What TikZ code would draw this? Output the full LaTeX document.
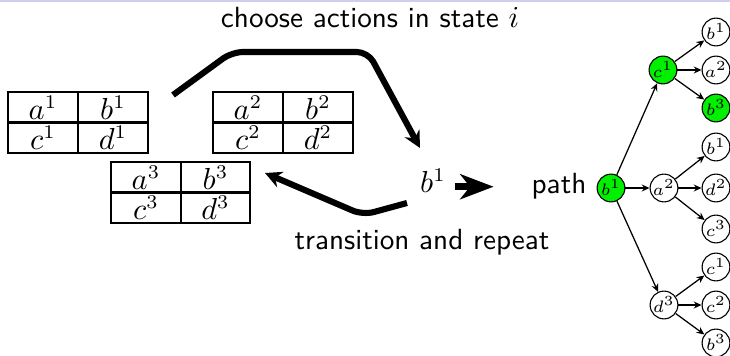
\documentclass[tikz,border=0pt]{standalone}
\usetikzlibrary{arrows.meta}
\definecolor{lav}{RGB}{206,206,240}
\definecolor{nodegreen}{RGB}{0,240,0}
\begin{document}
\begin{tikzpicture}[x=0.36pt,y=-0.36pt,
  tabline/.style={line width=1.05pt},
  cell/.style={font=\fontsize{10.5}{12}\selectfont, inner sep=0pt},
  thickarrow/.style={line width=2.2pt, rounded corners=4pt, -{Stealth[length=6pt,width=6pt,inset=2pt]}},
  bigarrow/.style={line width=2.5pt, -{Stealth[length=12pt,width=9pt,inset=3.5pt]}},
  lbl/.style={font=\sffamily\fontsize{10.5}{12.6}\selectfont, anchor=base, inner sep=0pt},
  st/.style={circle, draw, line width=0.4pt, minimum size=10pt, inner sep=0pt, font=\fontsize{5.6}{6.5}\selectfont},
  hot/.style={st, fill=nodegreen},
  treeedge/.style={line width=0.45pt, -{Stealth[length=2.8pt,width=2.5pt]}}
]
\useasboundingbox (0,0) rectangle (730,356);
\fill[lav] (0,0) rectangle (730,2);

% table 1
\draw[tabline] (8,92) rectangle (148,153);
\draw[tabline] (78,92) -- (78,153);
\draw[tabline] (8,122.5) -- (148,122.5);
\node[cell] (t1a) at (43,107.5) {$a^1$};
\node[cell] (t1b) at (113,107.5) {$b^1$};
\node[cell] (t1c) at (43,138) {$c^1$};
\node[cell] (t1d) at (113,138) {$d^1$};

% table 2
\draw[tabline] (213,92) rectangle (353,153);
\draw[tabline] (283,92) -- (283,153);
\draw[tabline] (213,122.5) -- (353,122.5);
\node[cell] (t2a) at (248,107.5) {$a^2$};
\node[cell] (t2b) at (318,107.5) {$b^2$};
\node[cell] (t2c) at (248,138) {$c^2$};
\node[cell] (t2d) at (318,138) {$d^2$};

% table 3
\draw[tabline] (111,162) rectangle (250,223);
\draw[tabline] (181,162) -- (181,223);
\draw[tabline] (111,192.5) -- (250,192.5);
\node[cell] (t3a) at (146,177.5) {$a^3$};
\node[cell] (t3b) at (215.5,177.5) {$b^3$};
\node[cell] (t3c) at (146,208) {$c^3$};
\node[cell] (t3d) at (215.5,208) {$d^3$};

% labels
\node[lbl] (choose) at (370,28) {choose actions in state $i$};
\node[lbl] (trans) at (422,250) {transition and repeat};
\node[lbl] (path) at (559,194) {path};
\node[cell, anchor=base] (b1) at (433,193) {$b^1$};

% thick arrows
\coordinate (s1) at (173,95);
\coordinate (p1) at (232,52);
\coordinate (p2) at (368,52);
\coordinate (e1) at (420,148);
\draw[thickarrow] (s1) -- (p1) -- (p2) -- (e1);
\coordinate (s2) at (407,203);
\coordinate (p3) at (363,215);
\coordinate (e2) at (265,173);
\draw[thickarrow] (s2) -- (p3) -- (e2);
\draw[bigarrow] ([xshift=3pt]b1.east |- path.west) -- ([xshift=-13.5pt]path.west);

% tree
\node[hot] (r) at (611,188) {$b^1$};
\node[hot] (m1) at (663,70) {$c^1$};
\node[st] (m2) at (664,188) {$a^2$};
\node[st] (m3) at (664,305) {$d^3$};
\node[st] (l11) at (716,32) {$b^1$};
\node[st] (l12) at (716,70) {$a^2$};
\node[hot] (l13) at (716,108) {$b^3$};
\node[st] (l21) at (716,147) {$b^1$};
\node[st] (l22) at (716,188) {$d^2$};
\node[st] (l23) at (716,229) {$c^3$};
\node[st] (l31) at (716,267) {$c^1$};
\node[st] (l32) at (716,305) {$c^2$};
\node[st] (l33) at (716,343) {$b^3$};
\foreach \m in {m1,m2,m3} \draw[treeedge] (r) -- (\m);
\foreach \l in {l11,l12,l13} \draw[treeedge] (m1) -- (\l);
\foreach \l in {l21,l22,l23} \draw[treeedge] (m2) -- (\l);
\foreach \l in {l31,l32,l33} \draw[treeedge] (m3) -- (\l);
\end{tikzpicture}
\end{document}
